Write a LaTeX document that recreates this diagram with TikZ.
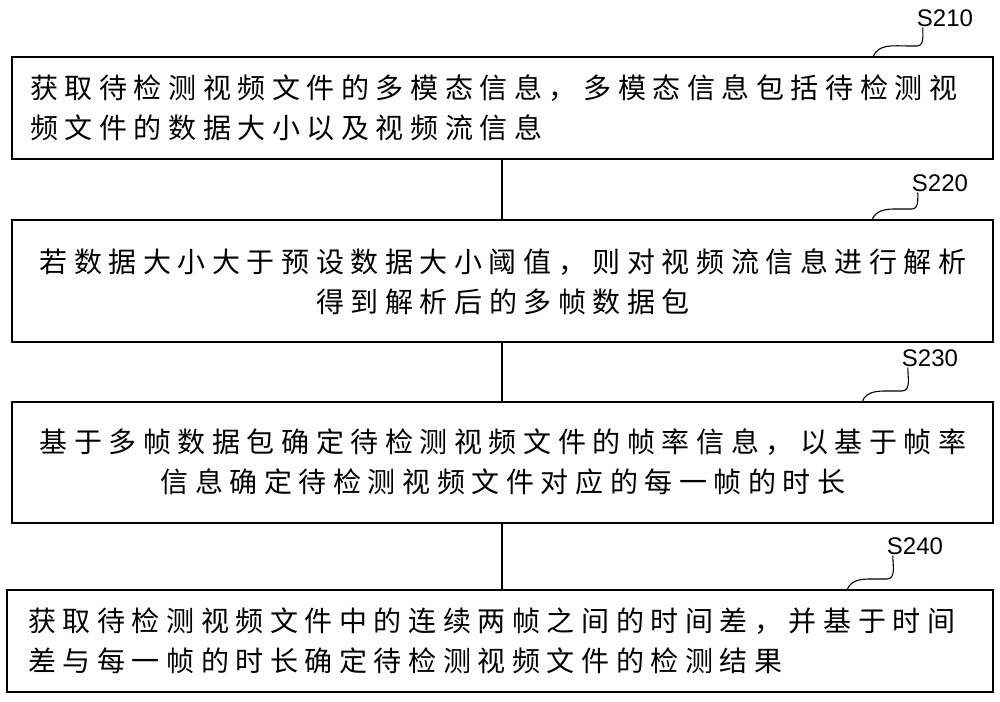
\documentclass[tikz,border=0pt]{standalone}
\usepackage{fontspec}
\newfontfamily\cjk[LetterSpace=23.5]{Noto Sans CJK SC}
\setmainfont{Liberation Sans}
\begin{document}
\begin{tikzpicture}[x=1pt,y=-1pt,
  box/.style={draw,line width=1.3pt,inner sep=0pt},
  txt/.style={font=\cjk\fontsize{28}{40}\selectfont,inner sep=0pt},
  lab/.style={font=\fontsize{24}{24}\selectfont,inner sep=0pt},
  lk/.style={line width=1.1pt}]
\useasboundingbox (0,0) rectangle (1000,701);
\draw[box] (12,57) rectangle (993,159);
\draw[box] (12,220) rectangle (993,342);
\draw[box] (12,402) rectangle (993,523);
\draw[box] (7,590) rectangle (993,692);
\coordinate (b1s) at (502,159);
\coordinate (b2n) at (502,220);
\coordinate (b2s) at (502,342);
\coordinate (b3n) at (502,402);
\coordinate (b3s) at (502,523);
\coordinate (b4n) at (502,590);
\node[txt,align=left,anchor=west] (t1) at (30,108) {获取待检测视频文件的多模态信息，多模态信息包括待检测视\\频文件的数据大小以及视频流信息};
\node[txt,align=center] (t2) at (503,282) {若数据大小大于预设数据大小阈值，则对视频流信息进行解析\\得到解析后的多帧数据包};
\node[txt,align=center] (t3) at (503,462) {基于多帧数据包确定待检测视频文件的帧率信息，以基于帧率\\信息确定待检测视频文件对应的每一帧的时长};
\node[txt,align=left,anchor=west] (t4) at (28,641) {获取待检测视频文件中的连续两帧之间的时间差，并基于时间\\差与每一帧的时长确定待检测视频文件的检测结果};
\draw[lk] (b1s) -- (b2n);
\draw[lk] (b2s) -- (b3n);
\draw[lk] (b3s) -- (b4n);
\node[lab] (s1) at (945,18) {S210};
\node[lab] (s2) at (940,183) {S220};
\node[lab] (s3) at (930,358) {S230};
\node[lab] (s4) at (915,546) {S240};
\coordinate (c1) at (873,57);
\coordinate (c2) at (872,220);
\coordinate (c3) at (862,402);
\coordinate (c4) at (847,590);
\foreach \c/\s in {c1/s1,c2/s2,c3/s3,c4/s4}
  \draw[lk] (\c) to[out=70,in=180] ([xshift=-8pt,yshift=11pt]\c -| \s.south west)
    -- ([xshift=0pt,yshift=11pt]\c -| \s.south west) to[out=0,in=-90] ([xshift=6pt,yshift=-1pt]\s.south west);
\end{tikzpicture}
\end{document}
